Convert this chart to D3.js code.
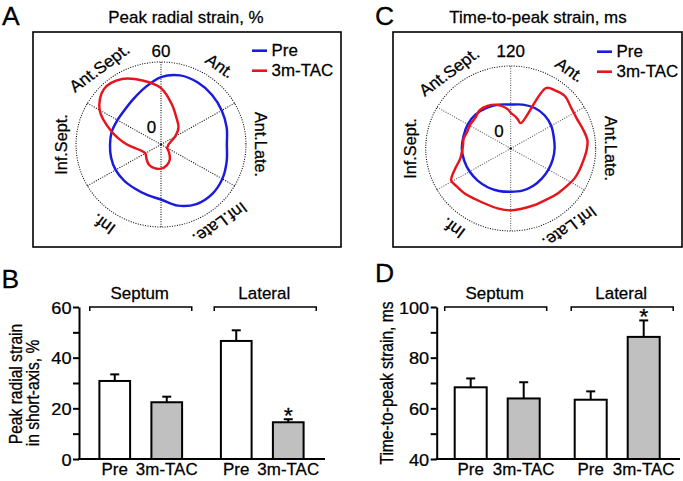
<!DOCTYPE html>
<html><head><meta charset="utf-8">
<script src="https://cdn.jsdelivr.net/npm/d3@7"></script>
<style>
body{margin:0;background:#fff}
svg{display:block}
text{font-family:"Liberation Sans",Arial,sans-serif;fill:#000;stroke:#000;stroke-width:0.25px}
</style>
</head><body>
<svg id="chart" width="683" height="481"></svg>
<script>
// ---------- data ----------
const segmentLabels = ["Ant.", "Ant.Late.", "Inf.Late.", "Inf.", "Inf.Sept.", "Ant.Sept."];
const segmentLabelAngles = [36, 90, 144, 215, 270, 322];
const spokeAngles = [0, 60, 120, 180, 240, 300];
const seriesNames = ["Pre", "3m-TAC"];

// Panel A: peak radial strain (%), polar, angle in degrees clockwise from top
const strainAngles = [0,15,30,45,60,75,90,105,120,135,150,165,180,195,210,225,240,255,270,285,300,315,330,345];
const strainPre = [49,52,52,51,49.5,48,46.5,48,50,51,50,46,40,38,37,37,37,36.5,36,36,35.5,36,38.5,43];
const strainTAC = [41,30,22,17.5,11.5,7,5.3,5,5,8,12.5,15.7,17.6,17.8,17,14.5,12.8,15.5,24,36,50,57,55,48];
const strainMax = 60;

// Panel C: time-to-peak strain (ms), polar
const ttpPreAngles = [0,15,30,45,60,75,90,105,120,135,150,165,180,195,210,225,240,255,270,285,300,315,330,345];
const ttpPre = [64,66,68,68,66,63,62,61.5,61.5,62,63,63.5,63,64,65,66,67,68,69,69,70,70,68,66];
const ttpTACAngles = [0,8,14,21,29.5,36,45,55,65,75,84,92,100,108,116,125,135,145,158,170,180,192,204,214,224,234,241,250,258,266,274,282,292,302,312,322,332,342,350,356];
const ttpTAC = [52,47,43,39.5,101,105,108,104,103,106,109,107,104,102,100,96,93,90,89,89,90,89,88,89,92,94,96,83,73,69,67.5,68,66,67,67,71,70,67,62,57];
const ttpMax = 120;

// Panel B: peak radial strain in short-axis (%)
const groups = ["Septum", "Lateral"];
const strainBarPre = [30.8, 46.6];
const strainBarPreSEM = [2.6, 4.2];
const strainBarTAC = [22.4, 14.5];
const strainBarTACSEM = [2.2, 1.2];
const strainTicks = [0,10,20,30,40,50,60];

// Panel D: time-to-peak strain (ms)
const ttpBarPre = [68.3, 63.4];
const ttpBarPreSEM = [3.5, 3.3];
const ttpBarTAC = [63.9, 88.2];
const ttpBarTACSEM = [6.4, 6.5];
const ttpTicks = [40,50,60,70,80,90,100];
const significant = [[false,false],[false,true]]; // [group][series]

// ---------- helpers ----------
const svg = d3.select("#chart");
const SX = 1.06;
const FS = 16;
const BLUE = "#1b1be0", RED = "#e8141c";
function T(sel, x, y, s, o = {}) {
  return sel.append("text")
    .attr("transform", `translate(${x},${y}) scale(${o.sx || SX},1)` + (o.rot ? ` rotate(${o.rot})` : ""))
    .attr("text-anchor", o.anchor || "middle")
    .style("font-size", (o.size || FS) + "px")
    .text(s);
}

function polarPanel(o) {
  svg.append("rect").attr("x", o.box[0]).attr("y", o.box[1]).attr("width", o.box[2]).attr("height", o.box[3])
    .attr("fill", "none").attr("stroke", "#000").attr("stroke-width", 1.6);
  T(svg, o.titleX, 23, o.title);
  T(svg, o.letterX, 25, o.letter, {anchor: "start", size: 25});
  const CS = 1.03, R = 82.5;
  const g = svg.append("g").attr("transform", `translate(${o.cx},${o.cy}) scale(${CS},1)`);
  g.append("circle").attr("r", R).attr("fill", "none").attr("stroke", "#000")
    .attr("stroke-width", 1).attr("stroke-dasharray", "1,1.4");
  const r = d3.scaleLinear([0, o.max], [0, R]);
  g.selectAll("line.spoke").data(spokeAngles).join("line")
    .attr("x1", 0).attr("y1", 0)
    .attr("x2", d => R * Math.sin(d * Math.PI / 180))
    .attr("y2", d => -R * Math.cos(d * Math.PI / 180))
    .attr("stroke", o.spokeColor).attr("stroke-width", 1).attr("stroke-dasharray", "1,1.4");
  g.append("circle").attr("r", 1.3).attr("fill", "#222");
  const line = d3.lineRadial()
    .angle(d => d[0] * Math.PI / 180)
    .radius(d => r(d[1]))
    .curve(d3.curveCatmullRomClosed.alpha(0.5));
  o.series.forEach(s => {
    g.append("path").datum(d3.zip(s.angles, s.values)).attr("d", line)
      .attr("fill", "none").attr("stroke", s.color).attr("stroke-width", 2.4).attr("stroke-linejoin", "round");
  });
  T(svg, o.cx, 57, String(o.max));
  T(svg, o.cx + o.zeroDx, o.cy - 11.5, "0");
  segmentLabels.forEach((lab, i) => {
    const a = segmentLabelAngles[i] * Math.PI / 180, rr = R + 9;
    T(svg, o.cx + CS * rr * Math.sin(a), o.cy - rr * Math.cos(a), lab, {rot: segmentLabelAngles[i], size: 16.3});
  });
  o.series.forEach((s, i) => {
    const y = o.legY + i * 20;
    svg.append("line").attr("x1", o.legX).attr("x2", o.legX + 15).attr("y1", y).attr("y2", y)
      .attr("stroke", s.color).attr("stroke-width", 2.6);
    T(svg, o.legX + 19.5, y + 5.7, s.name, {anchor: "start"});
  });
}

polarPanel({
  box: [33, 32, 308, 215], title: "Peak radial strain, %", titleX: 186, letter: "A", letterX: 2,
  cx: 161, cy: 144.5, max: strainMax, zeroDx: -9.5, spokeColor: "#000",
  legX: 252, legY: 50.7,
  series: [
    {name: seriesNames[0], angles: strainAngles, values: strainPre, color: BLUE},
    {name: seriesNames[1], angles: strainAngles, values: strainTAC, color: RED}
  ]
});
polarPanel({
  box: [393, 32, 289, 215], title: "Time-to-peak strain, ms", titleX: 538, letter: "C", letterX: 375,
  cx: 510.7, cy: 148.5, max: ttpMax, zeroDx: -11.7, spokeColor: "#555",
  legX: 597, legY: 51.7,
  series: [
    {name: seriesNames[0], angles: ttpPreAngles, values: ttpPre, color: BLUE},
    {name: seriesNames[1], angles: ttpTACAngles, values: ttpTAC, color: RED}
  ]
});

function barPanel(o) {
  const y = d3.scaleLinear(o.domain, [459, 307]);
  const xg = d3.scaleBand(groups, o.groupRange);
  const xs = d3.scalePoint(seriesNames, [-o.off, o.off]);
  const g = svg.append("g");
  T(svg, o.letterX, o.letterY, o.letter, {anchor: "start", size: 25});
  const bars = [];
  groups.forEach((gr, i) => {
    bars.push({g: gr, s: seriesNames[0], v: o.pre[i], e: o.preSEM[i], fill: "#fff", sig: significant[i][0]});
    bars.push({g: gr, s: seriesNames[1], v: o.tac[i], e: o.tacSEM[i], fill: "#c0c0c0", sig: significant[i][1] && o.stars});
  });
  const cxOf = d => xg(d.g) + xg.bandwidth() / 2 + xs(d.s);
  g.selectAll("line.eb").data(bars).join("line")
    .attr("x1", cxOf).attr("x2", cxOf).attr("y1", d => y(d.v)).attr("y2", d => y(d.v + d.e))
    .attr("stroke", "#000").attr("stroke-width", 2);
  g.selectAll("line.cap").data(bars).join("line")
    .attr("x1", d => cxOf(d) - 4.5).attr("x2", d => cxOf(d) + 4.5).attr("y1", d => y(d.v + d.e)).attr("y2", d => y(d.v + d.e))
    .attr("stroke", "#000").attr("stroke-width", 2);
  g.selectAll("rect.bar").data(bars).join("rect")
    .attr("x", d => cxOf(d) - o.bw / 2).attr("width", o.bw)
    .attr("y", d => y(d.v)).attr("height", d => y(o.domain[0]) - y(d.v))
    .attr("fill", d => d.fill).attr("stroke", "#000").attr("stroke-width", 2);
  bars.filter(d => d.sig).forEach(d => T(svg, cxOf(d), y(d.v + d.e) + 4, "*", {size: 22}));
  const ax = g.append("g").attr("transform", `translate(${o.axisX},0)`)
    .call(d3.axisLeft(y).tickValues(o.ticks).tickSize(6).tickSizeOuter(0).tickFormat(d => d % 20 === 0 ? d : ""));
  ax.select(".domain").attr("stroke-width", 2);
  ax.selectAll(".tick line").attr("stroke-width", 2);
  ax.selectAll(".tick text").attr("x", null).attr("dy", null)
    .attr("transform", `translate(-7.5,6) scale(1.1,1)`)
    .style("font-size", "16.5px").style("font-family", '"Liberation Sans",Arial,sans-serif')
    .style("stroke", "#000").style("stroke-width", "0.25px");
  g.append("line").attr("x1", o.axisX - 1).attr("x2", o.axisEnd).attr("y1", y(o.domain[0])).attr("y2", y(o.domain[0]))
    .attr("stroke", "#000").attr("stroke-width", 2);
  bars.forEach(d => T(svg, cxOf(d), 474.5, d.s));
  groups.forEach(gr => {
    const c = xg(gr) + xg.bandwidth() / 2 + o.brDx(gr), hw = 51;
    g.append("path").attr("d", `M${c - hw},311 V307 H${c + hw} V311`)
      .attr("fill", "none").attr("stroke", "#000").attr("stroke-width", 1.5);
    T(svg, c - 1, 298.5, gr);
  });
  o.yTitle.forEach(t => T(svg, t.x, t.y, t.s, {rot: -90, size: 15.6, sx: 1.12}));
}

barPanel({
  domain: [0, 60], ticks: strainTicks, groupRange: [80, 323], off: 26, bw: 30.7,
  axisX: 79, axisEnd: 325, letter: "B", letterX: 1.5, letterY: 288, stars: true,
  pre: strainBarPre, preSEM: strainBarPreSEM, tac: strainBarTAC, tacSEM: strainBarTACSEM,
  brDx: gr => gr === "Septum" ? 0 : 3,
  yTitle: [{x: 21.5, y: 384, s: "Peak radial strain"}, {x: 38.5, y: 393, s: "in short-axis, %"}]
});
barPanel({
  domain: [40, 100], ticks: ttpTicks, groupRange: [437.2, 677.2], off: 26.5, bw: 32,
  axisX: 436.7, axisEnd: 680, letter: "D", letterX: 375, letterY: 282, stars: true,
  pre: ttpBarPre, preSEM: ttpBarPreSEM, tac: ttpBarTAC, tacSEM: ttpBarTACSEM,
  brDx: gr => gr === "Septum" ? -1.5 : 5,
  yTitle: [{x: 392.5, y: 383, s: "Time-to-peak strain, ms"}]
});
</script>
</body></html>
